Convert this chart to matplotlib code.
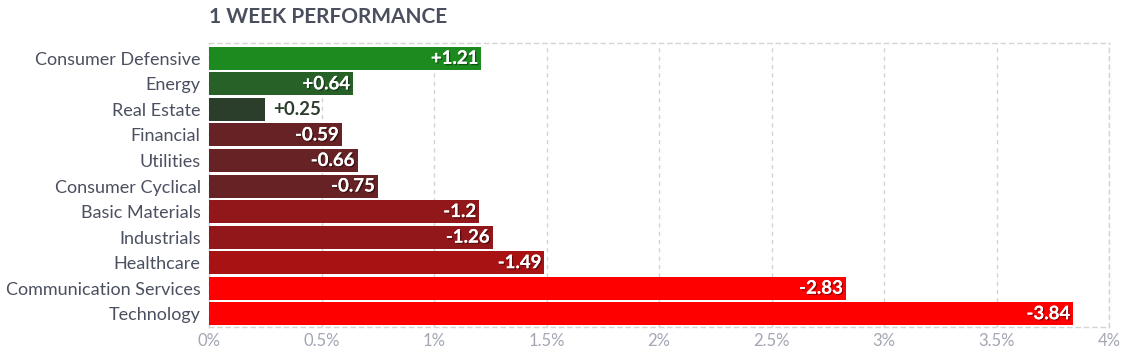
import matplotlib
matplotlib.use("Agg")
import matplotlib.pyplot as plt
import matplotlib.patheffects as pe
from matplotlib.ticker import FuncFormatter

categories = ["Consumer Defensive", "Energy", "Real Estate", "Financial", "Utilities",
              "Consumer Cyclical", "Basic Materials", "Industrials", "Healthcare",
              "Communication Services", "Technology"]
values = [1.21, 0.64, 0.25, -0.59, -0.66, -0.75, -1.2, -1.26, -1.49, -2.83, -3.84]
labels = ["+1.21", "+0.64", "+0.25", "-0.59", "-0.66", "-0.75", "-1.2", "-1.26", "-1.49", "-2.83", "-3.84"]
colors = ["#1c8a1e", "#276128", "#2b3d2b", "#662224", "#662224", "#662224",
          "#91171a", "#91171a", "#a81213", "#ff0000", "#ff0000"]
xticks = [0, 0.5, 1, 1.5, 2, 2.5, 3, 3.5, 4]

plt.rcParams['font.family'] = ['Lato', 'DejaVu Sans']

fig = plt.figure(figsize=(11.33, 3.51), dpi=100)
ax = fig.add_axes([209/1133, 1-326.5/351, 900/1133, 283.5/351])

y = list(range(len(categories)))
mags = [abs(v) for v in values]
ax.barh(y, mags, height=0.9, color=colors, zorder=3)
ax.set_ylim(len(categories)-0.5, -0.6)
ax.set_xlim(0, 4)
ax.set_yticks(y)
ax.set_yticklabels(categories, fontsize=13, color="#4b5060")
ax.set_xticks(xticks)
ax.xaxis.set_major_formatter(FuncFormatter(lambda v, p: f"{v:g}%"))
ax.tick_params(axis='x', labelsize=12, labelcolor="#a3a7b3", length=0, pad=5)
ax.tick_params(axis='y', length=0, pad=6)
ax.grid(axis='x', color="#d4d4d4", linestyle=(0, (3, 3)), linewidth=1, zorder=0)
for s in ax.spines.values():
    s.set_color("#d4d4d4")
    s.set_linestyle((0, (3, 3)))
    s.set_linewidth(1)

for yi, m, lab, c in zip(y, mags, labels, colors):
    if m < 0.4:
        ax.annotate(lab, (m, yi), xytext=(6, 0), textcoords="offset points",
                    ha="left", va="center", fontsize=13.4, fontweight="bold", color=c, zorder=4)
    else:
        ax.annotate(lab, (m, yi), xytext=(-2, 0), textcoords="offset points",
                    ha="right", va="center", fontsize=13.4, fontweight="bold", color="white", zorder=4,
                    path_effects=[pe.withSimplePatchShadow(offset=(1, -1), shadow_rgbFace="#000000", alpha=0.4), pe.Normal()])

fig.text(209/1133, 1-17/351, "1 WEEK PERFORMANCE", fontsize=15, fontweight="bold",
         color="#4a4f5e", ha="left", va="center")

fig.savefig("out.png", dpi=100)
